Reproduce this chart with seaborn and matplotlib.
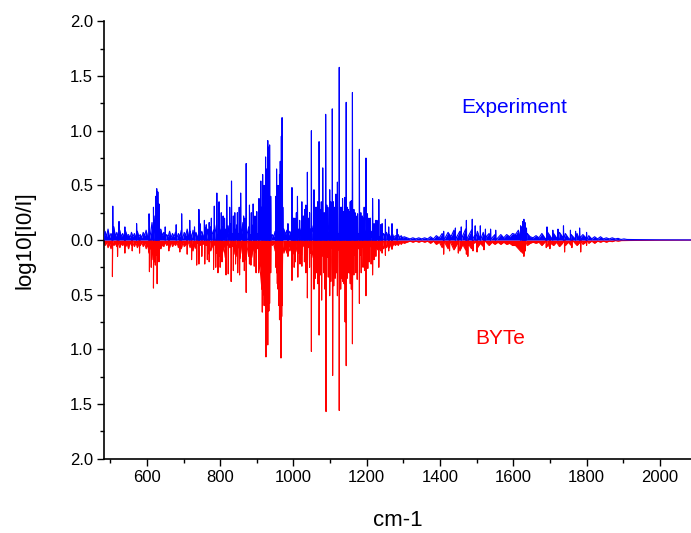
import numpy as np
import pandas as pd
import seaborn as sns
import matplotlib
matplotlib.use("Agg")
import matplotlib.pyplot as plt
from matplotlib.ticker import FuncFormatter, MultipleLocator

# ---- data (cm-1, log10[I0/I]) ----

# dense weak lines ("grass"): (start cm-1, step cm-1, values)
exp_grass_a = [0.08, 0.03, 0.10, 0.02, 0.06, 0.04, 0.12, 0.03, 0.07, 0.02,
               0.09, 0.03, 0.06, 0.02, 0.08, 0.04, 0.05, 0.02, 0.07, 0.03,
               0.06, 0.02, 0.08, 0.03, 0.05, 0.02, 0.07, 0.04, 0.09, 0.03,
               0.12, 0.06, 0.16, 0.10, 0.22, 0.14, 0.18, 0.08, 0.10, 0.04,
               0.07, 0.02, 0.05, 0.03, 0.08, 0.02, 0.06, 0.03, 0.07, 0.02,
               0.06, 0.03, 0.09, 0.02, 0.07, 0.04, 0.10, 0.03, 0.08, 0.02,
               0.09, 0.04, 0.07, 0.03, 0.11, 0.04, 0.08, 0.03, 0.12, 0.05,
               0.10, 0.04, 0.12, 0.05, 0.09, 0.06, 0.14, 0.05, 0.11, 0.04,
               0.12, 0.06, 0.10, 0.05, 0.13, 0.04, 0.15, 0.06, 0.11, 0.05,
               0.14, 0.06, 0.12, 0.05, 0.16, 0.07, 0.13, 0.06, 0.12, 0.05,
               0.14, 0.06, 0.11]
exp_grass_b = [0.10, 0.06, 0.16, 0.20, 0.30, 0.28, 0.38, 0.35, 0.45, 0.40,
               0.20, 0.05, 0.03, 0.08, 0.22, 0.30, 0.38, 0.48, 0.50, 0.10,
               0.05, 0.09, 0.04, 0.08, 0.05, 0.10, 0.05, 0.09, 0.04, 0.10,
               0.05, 0.11, 0.04, 0.09, 0.06, 0.12, 0.05, 0.10, 0.06, 0.13,
               0.06, 0.11, 0.07, 0.13, 0.05, 0.12, 0.07, 0.14, 0.06, 0.12,
               0.07, 0.14, 0.06, 0.12, 0.07, 0.15, 0.06, 0.13, 0.06, 0.12,
               0.07, 0.14, 0.06, 0.12, 0.06, 0.13, 0.07, 0.11, 0.05, 0.12,
               0.06, 0.10, 0.05, 0.11, 0.04, 0.10, 0.05, 0.09, 0.04, 0.08,
               0.04, 0.07, 0.04, 0.07, 0.03, 0.08, 0.04, 0.06, 0.03, 0.07,
               0.03, 0.05, 0.02, 0.06, 0.02, 0.04, 0.03, 0.05, 0.02, 0.04,
               0.02, 0.03]
exp_grass_c = [0.02, 0.01, 0.02, 0.01, 0.02, 0.01, 0.02, 0.01, 0.03, 0.01,
               0.04, 0.02, 0.06, 0.02, 0.07, 0.03, 0.09, 0.03, 0.08, 0.04,
               0.10, 0.04, 0.09, 0.04, 0.08, 0.03, 0.07, 0.03, 0.06, 0.02,
               0.05, 0.02, 0.05, 0.02, 0.05, 0.03, 0.06, 0.05, 0.09, 0.12,
               0.15, 0.06, 0.03, 0.02, 0.04, 0.02, 0.06, 0.02, 0.07, 0.03,
               0.06, 0.02, 0.07, 0.03, 0.06, 0.02, 0.05, 0.02, 0.06, 0.02,
               0.05, 0.02, 0.04, 0.01, 0.03, 0.01, 0.03, 0.01, 0.02, 0.01,
               0.02, 0.01, 0.015, 0.005, 0.01, 0.005, 0.005]

byte_grass_a = [0.05, 0.02, 0.07, 0.03, 0.08, 0.02, 0.05, 0.03, 0.06, 0.02,
                0.07, 0.03, 0.05, 0.02, 0.06, 0.03, 0.08, 0.02, 0.05, 0.03,
                0.06, 0.02, 0.07, 0.03, 0.05, 0.02, 0.06, 0.03, 0.08, 0.04,
                0.12, 0.08, 0.18, 0.12, 0.20, 0.14, 0.16, 0.07, 0.08, 0.04,
                0.06, 0.02, 0.05, 0.03, 0.07, 0.02, 0.06, 0.03, 0.05, 0.02,
                0.07, 0.03, 0.08, 0.02, 0.06, 0.04, 0.09, 0.03, 0.07, 0.03,
                0.10, 0.04, 0.08, 0.03, 0.12, 0.05, 0.09, 0.04, 0.11, 0.05,
                0.13, 0.05, 0.10, 0.06, 0.14, 0.05, 0.12, 0.06, 0.15, 0.05,
                0.12, 0.06, 0.16, 0.05, 0.14, 0.07, 0.18, 0.06, 0.13, 0.05,
                0.15, 0.07, 0.17, 0.06, 0.14, 0.08, 0.18, 0.07, 0.15, 0.06,
                0.16, 0.07, 0.12]
byte_grass_b = [0.10, 0.08, 0.20, 0.30, 0.45, 0.50, 0.60, 0.55, 0.65, 0.50,
                0.25, 0.05, 0.03, 0.10, 0.30, 0.45, 0.60, 0.65, 0.60, 0.12,
                0.07, 0.12, 0.05, 0.10, 0.06, 0.13, 0.07, 0.11, 0.06, 0.12,
                0.07, 0.14, 0.06, 0.11, 0.08, 0.15, 0.07, 0.12, 0.08, 0.16,
                0.08, 0.14, 0.09, 0.17, 0.08, 0.15, 0.09, 0.18, 0.08, 0.16,
                0.09, 0.18, 0.08, 0.16, 0.09, 0.19, 0.09, 0.17, 0.08, 0.16,
                0.09, 0.18, 0.09, 0.15, 0.08, 0.16, 0.09, 0.14, 0.07, 0.15,
                0.08, 0.14, 0.07, 0.14, 0.06, 0.13, 0.07, 0.12, 0.06, 0.11,
                0.06, 0.10, 0.05, 0.09, 0.04, 0.10, 0.05, 0.08, 0.04, 0.07,
                0.04, 0.07, 0.03, 0.06, 0.03, 0.05, 0.03, 0.05, 0.02, 0.04,
                0.02, 0.03]
byte_grass_c = [0.02, 0.01, 0.02, 0.01, 0.02, 0.01, 0.02, 0.01, 0.03, 0.01,
                0.04, 0.02, 0.07, 0.03, 0.08, 0.03, 0.09, 0.04, 0.10, 0.04,
                0.09, 0.04, 0.08, 0.03, 0.07, 0.03, 0.06, 0.02, 0.05, 0.02,
                0.04, 0.02, 0.04, 0.02, 0.04, 0.03, 0.05, 0.05, 0.08, 0.11,
                0.12, 0.05, 0.03, 0.02, 0.03, 0.02, 0.05, 0.02, 0.06, 0.03,
                0.05, 0.02, 0.06, 0.03, 0.05, 0.02, 0.05, 0.02, 0.05, 0.02,
                0.04, 0.02, 0.03, 0.01, 0.03, 0.01, 0.02, 0.01, 0.02, 0.01,
                0.015, 0.005, 0.01, 0.005, 0.005]

exp_grass = [(486, 4, exp_grass_a), (898, 4, exp_grass_b), (1310, 8, exp_grass_c)]
byte_grass = [(486, 4, byte_grass_a), (898, 4, byte_grass_b), (1310, 8, byte_grass_c)]

# individual lines
exp_peak_x = [507, 524, 540, 572, 606, 618, 624, 627, 630, 633, 650, 680, 695,
              717, 742, 757, 770, 784, 791, 797, 808, 818, 831, 840, 856, 864,
              871, 880, 890, 900, 906, 911, 916, 920, 924, 927, 930, 933, 935,
              938, 952, 954, 958, 962, 964, 967, 969, 971, 985, 996, 1004,
              1011, 1017, 1023, 1031, 1038, 1044, 1049, 1056, 1063, 1070, 1076,
              1080, 1084, 1088, 1094, 1099, 1102, 1106, 1112, 1116, 1120, 1125,
              1131, 1136, 1140, 1144, 1150, 1155, 1161, 1168, 1175, 1180, 1188,
              1193, 1198, 1206, 1216, 1224, 1233, 1242, 1251, 1260, 1269, 1283,
              1410, 1442, 1458, 1472, 1488, 1496, 1510, 1524, 1538, 1552, 1620,
              1626, 1629, 1632, 1636, 1692, 1708, 1722, 1737, 1756, 1770, 1781,
              1800]
exp_peak_h = [0.31, 0.17, 0.12, 0.15, 0.24, 0.30, 0.40, 0.47, 0.44, 0.33, 0.12,
              0.14, 0.24, 0.18, 0.28, 0.18, 0.16, 0.31, 0.43, 0.35, 0.22, 0.41,
              0.54, 0.25, 0.43, 0.22, 0.70, 0.32, 0.33, 0.26, 0.38, 0.54, 0.60,
              0.50, 0.76, 0.65, 0.91, 0.85, 0.87, 0.40, 0.40, 0.65, 0.50, 0.60,
              0.72, 0.95, 1.12, 0.30, 0.15, 0.48, 0.20, 0.40, 0.18, 0.35, 0.28,
              0.62, 0.25, 1.00, 0.46, 0.30, 0.90, 0.35, 0.66, 0.25, 1.15, 0.30,
              0.46, 0.35, 1.20, 0.30, 0.42, 0.53, 1.58, 0.30, 0.26, 0.39, 1.26,
              0.28, 0.35, 1.35, 0.25, 0.24, 0.83, 0.22, 0.30, 0.75, 0.20, 0.38,
              0.18, 0.37, 0.15, 0.19, 0.12, 0.15, 0.10, 0.08, 0.11, 0.12, 0.18,
              0.19, 0.13, 0.13, 0.10, 0.10, 0.09, 0.13, 0.17, 0.19, 0.16, 0.11,
              0.12, 0.09, 0.10, 0.13, 0.09, 0.08, 0.11, 0.07]
exp_mid_x = [730, 745, 762, 776, 803, 812, 826, 836, 847, 852, 867, 885, 895,
             1000, 1008, 1027, 1034, 1042, 1060, 1066, 1073, 1091, 1109, 1114,
             1128, 1134, 1147, 1152, 1158, 1165, 1171, 1184, 1190, 1202, 1210,
             1220, 1228, 1238]
exp_mid_h = [0.12, 0.15, 0.14, 0.20, 0.25, 0.20, 0.30, 0.22, 0.25, 0.30, 0.20,
             0.25, 0.22, 0.20, 0.25, 0.22, 0.32, 0.20, 0.30, 0.35, 0.28, 0.32,
             0.35, 0.26, 0.30, 0.38, 0.30, 0.26, 0.36, 0.28, 0.22, 0.25, 0.20,
             0.24, 0.20, 0.15, 0.18, 0.14]

byte_peak_x = [506, 520, 540, 560, 580, 607, 612, 618, 623, 628, 633, 660, 690,
               710, 736, 750, 765, 782, 794, 805, 816, 830, 842, 853, 862, 871,
               880, 893, 905, 915, 920, 925, 928, 930, 933, 935, 938, 952, 956,
               960, 962, 966, 968, 970, 985, 996, 1005, 1012, 1023, 1030, 1038,
               1044, 1049, 1056, 1063, 1070, 1077, 1083, 1089, 1095, 1099, 1107,
               1114, 1120, 1125, 1132, 1138, 1141, 1144, 1150, 1155, 1161, 1170,
               1180, 1190, 1198, 1207, 1216, 1225, 1233, 1242, 1251, 1260, 1269,
               1410, 1426, 1450, 1472, 1476, 1490, 1501, 1520, 1625, 1629, 1633,
               1690, 1700, 1740, 1760, 1784, 1800]
byte_peak_h = [0.335, 0.15, 0.12, 0.10, 0.12, 0.29, 0.25, 0.44, 0.23, 0.40,
               0.20, 0.10, 0.11, 0.13, 0.23, 0.15, 0.18, 0.27, 0.30, 0.20, 0.32,
               0.38, 0.22, 0.32, 0.20, 0.48, 0.22, 0.24, 0.30, 0.66, 0.60, 1.07,
               0.70, 0.96, 0.65, 0.58, 0.30, 0.25, 0.40, 0.60, 0.73, 1.08, 0.70,
               0.30, 0.15, 0.37, 0.20, 0.34, 0.24, 0.20, 0.53, 0.25, 1.02, 0.45,
               0.30, 0.87, 0.55, 0.30, 1.57, 0.34, 0.51, 1.24, 0.35, 0.51, 1.56,
               0.35, 0.40, 0.75, 1.15, 0.30, 0.40, 0.95, 0.30, 0.58, 0.25, 0.51,
               0.20, 0.32, 0.15, 0.25, 0.12, 0.14, 0.10, 0.085, 0.13, 0.10, 0.12,
               0.13, 0.15, 0.10, 0.11, 0.09, 0.12, 0.15, 0.10, 0.07, 0.08, 0.11,
               0.07, 0.11, 0.05]
byte_mid_x = [722, 742, 758, 770, 788, 800, 822, 836, 848, 866, 884, 898,
              1002, 1018, 1034, 1060, 1066, 1074, 1086, 1102, 1110, 1117, 1129,
              1135, 1147, 1153, 1158, 1165, 1174, 1185, 1194, 1203, 1212, 1220]
byte_mid_h = [0.18, 0.22, 0.22, 0.20, 0.25, 0.25, 0.31, 0.28, 0.30, 0.28, 0.23,
              0.30, 0.25, 0.22, 0.30, 0.35, 0.40, 0.32, 0.45, 0.38, 0.42, 0.30,
              0.45, 0.38, 0.35, 0.30, 0.45, 0.32, 0.36, 0.30, 0.28, 0.26, 0.22,
              0.18]

# flat tail towards the right edge
tail_x = [483, 1930, 2000, 2085]
exp_tail = [0.0, 0.004, 0.002, 0.001]
byte_tail = [0.0, 0.004, 0.002, 0.001]


def spectrum(grass, peak_x, peak_h, tail, sign):
    xs, ys = [], []
    for start, step, vals in grass:
        xs += list(start + step * np.arange(len(vals)))
        ys += list(vals)
    for x, h in zip(peak_x, peak_h):
        xs += [x - 0.6, x, x + 0.6]
        ys += [0.0, h, 0.0]
    xs += tail_x
    ys += tail
    df = pd.DataFrame({"cm": xs, "val": np.array(ys) * sign})
    return df.sort_values("cm", kind="stable").reset_index(drop=True)


exp_df = spectrum(exp_grass, exp_peak_x + exp_mid_x, exp_peak_h + exp_mid_h,
                  exp_tail, 1)
byte_df = spectrum(byte_grass, byte_peak_x + byte_mid_x,
                   byte_peak_h + byte_mid_h, byte_tail, -1)

sns.set_style("ticks")
plt.rcParams["font.family"] = ["Liberation Sans", "DejaVu Sans"]

fig = plt.figure(figsize=(6.91, 5.33), dpi=100)
ax = fig.add_axes([0.1505, 0.1396, 0.8495, 0.8202])

red = "#FF0000"
blue = "#0000FF"
ax.fill_between(byte_df["cm"], 0, byte_df["val"], color=red, lw=0, zorder=2)
sns.lineplot(data=byte_df, x="cm", y="val", sort=False, estimator=None,
             color=red, lw=0.8, ax=ax, zorder=2)
ax.fill_between(exp_df["cm"], 0, exp_df["val"], color=blue, lw=0, zorder=3)
sns.lineplot(data=exp_df, x="cm", y="val", sort=False, estimator=None,
             color=blue, lw=0.8, ax=ax, zorder=3)

ax.set_xlim(483, 2085)
ax.set_ylim(-2, 2)
ax.xaxis.set_major_locator(MultipleLocator(200))
ax.xaxis.set_minor_locator(MultipleLocator(100))
ax.yaxis.set_major_locator(MultipleLocator(0.5))
ax.yaxis.set_minor_locator(MultipleLocator(0.25))
ax.yaxis.set_major_formatter(FuncFormatter(lambda v, p: f"{abs(v):.1f}"))
ax.tick_params(which="major", direction="out", length=5, width=1,
               labelsize=12, pad=3, color="black", labelcolor="black")
ax.tick_params(which="minor", direction="out", length=3, width=1,
               color="black")

for side in ["top", "right"]:
    ax.spines[side].set_visible(False)
for side in ["left", "bottom"]:
    ax.spines[side].set_linewidth(1.2)
    ax.spines[side].set_color("black")

ax.set_xlabel("cm-1", fontsize=16, labelpad=18, color="black")
ax.set_ylabel("log10[I0/I]", fontsize=16, labelpad=25, color="black")

ax.text(1602, 1.21, "Experiment", color=blue, fontsize=15,
        ha="center", va="center")
ax.text(1565, -0.90, "BYTe", color=red, fontsize=15,
        ha="center", va="center")

fig.savefig("out.png", dpi=100)
